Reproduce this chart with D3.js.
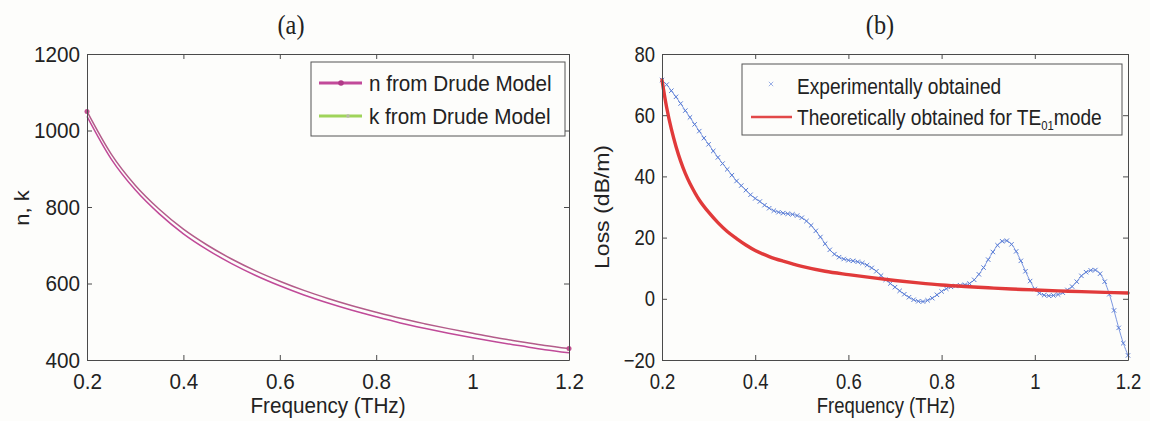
<!DOCTYPE html>
<html>
<head>
<meta charset="utf-8">
<script src="https://cdn.jsdelivr.net/npm/d3@7/dist/d3.min.js"></script>
<style>
  html, body { margin: 0; padding: 0; background: #fdfdfb; }
  svg { display: block; }
  text { font-family: "Liberation Sans", Arial, sans-serif; fill: #222; }
</style>
</head>
<body>
<svg id="fig" width="1150" height="421"></svg>
<script>
// ---------- Panel (a): Drude model n and k ----------
const freqA = [0.20, 0.25, 0.30, 0.35, 0.40, 0.45, 0.50, 0.55, 0.60, 0.65, 0.70,
               0.75, 0.80, 0.85, 0.90, 0.95, 1.00, 1.05, 1.10, 1.15, 1.20];
const nDrude = [1050, 939, 857, 794, 742, 700, 664, 633, 606, 582, 561,
                542, 525, 509, 495, 482, 470, 458, 448, 438, 430];
const kDrude = [1037, 926, 845, 782, 730, 688, 652, 621, 594, 570, 549,
                530, 513, 497, 483, 470, 458, 447, 437, 427, 419];
const ticksAx = [0.2, 0.4, 0.6, 0.8, 1.0, 1.2];
const ticksAy = [400, 600, 800, 1000, 1200];

// ---------- Panel (b): measured vs. theoretical loss ----------
const expFreq = [0.20, 0.21, 0.22, 0.23, 0.24, 0.25, 0.26, 0.27, 0.28, 0.29,
                 0.30, 0.31, 0.32, 0.33, 0.34, 0.35, 0.36, 0.37, 0.38, 0.39,
                 0.40, 0.41, 0.42, 0.43, 0.44, 0.45, 0.46, 0.47, 0.48, 0.49,
                 0.50, 0.51, 0.52, 0.53, 0.54, 0.55, 0.56, 0.57, 0.58, 0.59,
                 0.60, 0.61, 0.62, 0.63, 0.64, 0.65, 0.66, 0.67, 0.68, 0.69,
                 0.70, 0.71, 0.72, 0.73, 0.74, 0.75, 0.76, 0.77, 0.78, 0.79,
                 0.80, 0.81, 0.82, 0.83, 0.84, 0.85, 0.86, 0.87, 0.88, 0.89,
                 0.90, 0.91, 0.92, 0.93, 0.94, 0.95, 0.96, 0.97, 0.98, 0.99,
                 1.00, 1.01, 1.02, 1.03, 1.04, 1.05, 1.06, 1.07, 1.08, 1.09,
                 1.10, 1.11, 1.12, 1.13, 1.14, 1.15, 1.16, 1.17, 1.18, 1.19, 1.20];
const expLoss = [71.5, 70, 68, 66, 63.8, 61.5, 59.3, 57, 54.8, 52.5,
                 50.5, 48.3, 46.2, 44.2, 42.3, 40.4, 38.5, 37, 35.5, 34,
                 32.8, 31.8, 30.6, 29.6, 28.8, 28.3, 28, 27.8, 27.6, 27.2,
                 26.5, 25.4, 24, 22.2, 20.2, 18, 16, 14.6, 13.6, 13,
                 12.6, 12.4, 12.1, 11.7, 11, 10.1, 9, 7.6, 6.2, 5,
                 3.8, 2.6, 1.5, 0.5, -0.3, -0.8, -0.9, -0.5, 0.2, 1.3,
                 2.4, 3.3, 3.9, 4.2, 4.4, 4.6, 5, 6.2, 8, 10.2,
                 12.8, 15.3, 17.5, 18.8, 19, 17.8, 15.5, 12.4, 9, 5.8,
                 3.2, 1.8, 1.2, 1, 1.1, 1.4, 2, 2.9, 4, 5.6,
                 7.5, 8.7, 9.3, 9.4, 8.2, 5.6, 1.5, -3.8, -9.5, -14.5, -18.5];
const thFreq = [0.20, 0.21, 0.22, 0.23, 0.24, 0.25, 0.26, 0.28, 0.30, 0.32, 0.34,
                0.36, 0.38, 0.40, 0.43, 0.46, 0.50, 0.55, 0.60, 0.65, 0.70, 0.75,
                0.80, 0.85, 0.90, 0.95, 1.00, 1.05, 1.10, 1.15, 1.20];
const thLoss = [71.5, 62.5, 55.5, 49.8, 45, 41, 37.7, 32.3, 28.3, 24.9, 22,
                19.7, 17.6, 15.8, 13.8, 12.3, 10.6, 9.0, 7.9, 6.9, 6.0, 5.2,
                4.5, 4.0, 3.6, 3.2, 2.9, 2.6, 2.35, 2.1, 1.9];
const ticksBx = [0.2, 0.4, 0.6, 0.8, 1.0, 1.2];
const ticksBy = [-20, 0, 20, 40, 60, 80];

const svg = d3.select("#fig");
const fmt = d => d3.format("~g")(d);

// Narrows text glyphs horizontally around their anchor point.
function squish(sel, sx) {
  sel.each(function () {
    const t = d3.select(this);
    const x = +t.attr("x") || 0, y = +t.attr("y") || 0;
    t.attr("x", null).attr("y", null)
     .attr("transform", `translate(${x},${y}) scale(${sx},1)`);
  });
}

// MATLAB-style boxed axes with inward ticks on all four sides.
function boxedAxes(g, x, y, xt, yt, fs, sx) {
  const [x0, x1] = x.range(), [y1, y0] = y.range();
  const style = sel => {
    sel.selectAll("path.domain").attr("stroke", "#4a4a4a").attr("stroke-width", 1);
    sel.selectAll(".tick line").attr("stroke", "#4a4a4a");
    sel.selectAll("text").attr("font-size", null).style("font-size", fs + "px")
      .attr("font-family", null).attr("fill", "#222");
    squish(sel.selectAll("text"), sx);
  };
  g.append("g").attr("transform", `translate(0,${y1})`)
    .call(d3.axisBottom(x).tickValues(xt).tickFormat(fmt).tickSizeInner(-5).tickSizeOuter(0).tickPadding(13))
    .call(style);
  g.append("g").attr("transform", `translate(0,${y0})`)
    .call(d3.axisTop(x).tickValues(xt).tickFormat("").tickSizeInner(-5).tickSizeOuter(0))
    .call(style);
  g.append("g").attr("transform", `translate(${x0},0)`)
    .call(d3.axisLeft(y).tickValues(yt).tickFormat(fmt).tickSizeInner(-5).tickSizeOuter(0).tickPadding(7))
    .call(style);
  g.append("g").attr("transform", `translate(${x1},0)`)
    .call(d3.axisRight(y).tickValues(yt).tickFormat("").tickSizeInner(-5).tickSizeOuter(0))
    .call(style);
}

const serif = "'Liberation Serif', 'Times New Roman', serif";

// ---------- Panel (a) ----------
const xA = d3.scaleLinear().domain([0.2, 1.2]).range([87, 569]);
const yA = d3.scaleLinear().domain([400, 1200]).range([360, 54]);
const gA = svg.append("g");
const sxA = 0.94;

const lineA = vals => d3.line().x((d, i) => xA(freqA[i])).y(d => yA(d)).curve(d3.curveMonotoneX)(vals);
gA.append("path").attr("d", lineA(kDrude)).attr("fill", "none")
  .attr("stroke", "#c04a98").attr("stroke-width", 1.5);
gA.append("path").attr("d", lineA(nDrude)).attr("fill", "none")
  .attr("stroke", "#b35c8a").attr("stroke-width", 1.5);
// end markers on n
gA.selectAll("circle.nmk").data([0, nDrude.length - 1]).join("circle")
  .attr("cx", i => xA(freqA[i])).attr("cy", i => yA(nDrude[i])).attr("r", 2.5)
  .attr("fill", "#c0508e");

boxedAxes(gA, xA, yA, ticksAx, ticksAy, 22, sxA);

// legend (a)
const legA = gA.append("g");
legA.append("rect").attr("x", 311).attr("y", 62).attr("width", 254).attr("height", 74)
  .attr("fill", "#fdfdfb").attr("stroke", "#555").attr("stroke-width", 1);
legA.append("line").attr("x1", 319).attr("x2", 362).attr("y1", 83).attr("y2", 83)
  .attr("stroke", "#c24a9a").attr("stroke-width", 3);
legA.append("circle").attr("cx", 341).attr("cy", 83).attr("r", 2.8).attr("fill", "#b03a88");
legA.append("line").attr("x1", 319).attr("x2", 362).attr("y1", 116).attr("y2", 116)
  .attr("stroke", "#9fd45a").attr("stroke-width", 3);
legA.append("circle").attr("cx", 348).attr("cy", 116).attr("r", 1.8).attr("fill", "#b8b8a8");
legA.append("text").attr("x", 369).attr("y", 83).attr("dy", "0.36em")
  .style("font-size", "22px").text("n from Drude Model");
legA.append("text").attr("x", 369).attr("y", 116).attr("dy", "0.36em")
  .style("font-size", "22px").text("k from Drude Model");
squish(legA.selectAll("text"), sxA);

const titleA = svg.append("text").attr("x", 291).attr("y", 34).attr("text-anchor", "middle")
  .style("font-family", serif).style("font-size", "27px").text("(a)");
const xLabA = svg.append("text").attr("x", 328).attr("y", 413).attr("text-anchor", "middle")
  .style("font-size", "22px").text("Frequency (THz)");
squish(titleA, 0.9);
squish(xLabA, sxA);
svg.append("text").attr("transform", `translate(29,208) scale(${sxA},1) rotate(-90)`)
  .attr("text-anchor", "middle").style("font-size", "22px").text("n, k");

// ---------- Panel (b) ----------
const xB = d3.scaleLinear().domain([0.2, 1.2]).range([662, 1128]);
const yB = d3.scaleLinear().domain([-20, 80]).range([360, 54]);
const gB = svg.append("g");
const sxB = 0.84;

// measured data: thin trace with x markers
gB.append("path")
  .attr("d", d3.line().x((d, i) => xB(expFreq[i])).y(d => yB(d)).curve(d3.curveMonotoneX)(expLoss))
  .attr("fill", "none").attr("stroke", "#7d98e0").attr("stroke-width", 1);
const xm = "M-2.2,-2.2L2.2,2.2M-2.2,2.2L2.2,-2.2";
gB.selectAll("path.xm").data(expLoss).join("path").attr("class", "xm")
  .attr("transform", (d, i) => `translate(${xB(expFreq[i])},${yB(d)})`)
  .attr("d", xm).attr("stroke", "#5b7ed6").attr("stroke-width", 1).attr("fill", "none");

// theoretical TE01 loss
gB.append("path")
  .attr("d", d3.line().x((d, i) => xB(thFreq[i])).y(d => yB(d)).curve(d3.curveCatmullRom.alpha(0.5))(thLoss))
  .attr("fill", "none").attr("stroke", "#e13a3a").attr("stroke-width", 3.4)
  .attr("stroke-linecap", "round");

boxedAxes(gB, xB, yB, ticksBx, ticksBy, 22, sxB);

// legend (b)
const legB = gB.append("g");
legB.append("rect").attr("x", 742).attr("y", 64).attr("width", 380).attr("height", 71)
  .attr("fill", "#fdfdfb").attr("stroke", "#555").attr("stroke-width", 1);
legB.append("path").attr("transform", "translate(771,84)").attr("d", xm)
  .attr("stroke", "#9bb0e6").attr("stroke-width", 1).attr("fill", "none");
legB.append("line").attr("x1", 751).attr("x2", 792).attr("y1", 117).attr("y2", 117)
  .attr("stroke", "#e24848").attr("stroke-width", 2.6);
legB.append("text").attr("x", 797).attr("y", 86).attr("dy", "0.36em")
  .style("font-size", "22px").text("Experimentally obtained");
const t2 = legB.append("text").attr("x", 797).attr("y", 117).attr("dy", "0.36em")
  .style("font-size", "22px");
t2.append("tspan").text("Theoretically obtained for TE");
t2.append("tspan").attr("dy", "5").style("font-size", "13px").text("01");
t2.append("tspan").attr("dy", "-5").text("mode");
squish(legB.selectAll("text"), 0.87);

const titleB = svg.append("text").attr("x", 880).attr("y", 34).attr("text-anchor", "middle")
  .style("font-family", serif).style("font-size", "27px").text("(b)");
const xLabB = svg.append("text").attr("x", 886).attr("y", 413).attr("text-anchor", "middle")
  .style("font-size", "22px").text("Frequency (THz)");
squish(titleB, 0.9);
squish(xLabB, sxB);
svg.append("text").attr("transform", `translate(609,207) scale(${sxB},1) rotate(-90)`)
  .attr("text-anchor", "middle").style("font-size", "23px").text("Loss (dB/m)");
</script>
</body>
</html>
